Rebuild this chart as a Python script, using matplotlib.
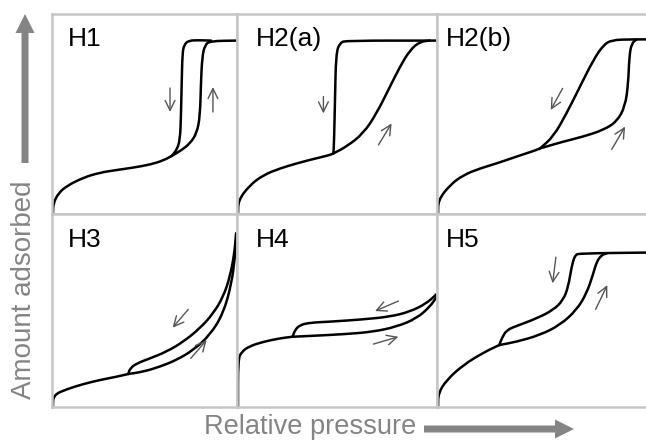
import matplotlib
matplotlib.use("Agg")
import matplotlib.pyplot as plt
from matplotlib.patches import FancyArrow, PathPatch
from matplotlib.path import Path

plt.rcParams['font.family'] = ['Liberation Sans', 'DejaVu Sans']

# ---------------- data (panel-relative units, 0..1) ----------------
PANEL_NAMES = ["H1", "H2(a)", "H2(b)", "H3", "H4", "H5"]

H1_BASE = [(0.005, 0.0), (0.007, 0.053), (0.034, 0.103), (0.079, 0.14), (0.169, 0.182),
           (0.259, 0.207), (0.35, 0.22), (0.44, 0.232), (0.53, 0.247), (0.60, 0.267), (0.647, 0.29)]
H1_ADS = [(0.647, 0.29), (0.701, 0.32), (0.746, 0.353), (0.782, 0.403), (0.80, 0.487),
          (0.805, 0.653), (0.812, 0.787), (0.827, 0.845), (0.854, 0.865), (1.0, 0.867)]
H1_DES = [(0.647, 0.29), (0.674, 0.32), (0.692, 0.37), (0.697, 0.487), (0.701, 0.653),
          (0.705, 0.803), (0.714, 0.845), (0.737, 0.867), (0.79, 0.869), (0.86, 0.867)]

H2A_BASE = [(0.005, 0.0), (0.007, 0.07), (0.065, 0.145), (0.132, 0.195), (0.215, 0.228),
            (0.298, 0.253), (0.382, 0.275), (0.465, 0.295), (0.482, 0.303)]
H2A_ADS = [(0.482, 0.303), (0.548, 0.337), (0.632, 0.403), (0.698, 0.503), (0.765, 0.637),
           (0.815, 0.737), (0.865, 0.82), (0.915, 0.862), (0.965, 0.867)]
H2A_DES = [(0.482, 0.303), (0.485, 0.353), (0.49, 0.57), (0.495, 0.803), (0.515, 0.857),
           (0.548, 0.867), (1.0, 0.867)]

H2B_BASE = [(0.005, 0.0), (0.006, 0.07), (0.062, 0.145), (0.126, 0.195), (0.206, 0.228),
            (0.286, 0.253), (0.38, 0.287), (0.476, 0.32), (0.493, 0.328)]
H2B_DES = [(0.493, 0.328), (0.557, 0.387), (0.62, 0.503), (0.684, 0.637), (0.748, 0.77),
           (0.796, 0.845), (0.836, 0.87), (0.923, 0.873), (1.0, 0.873)]
H2B_ADS = [(0.493, 0.328), (0.604, 0.362), (0.70, 0.387), (0.796, 0.42), (0.86, 0.462),
           (0.90, 0.537), (0.915, 0.653), (0.92, 0.787), (0.931, 0.853), (0.955, 0.873)]

H3_BASE = [(0.005, 0.0), (0.007, 0.062), (0.079, 0.092), (0.169, 0.119), (0.259, 0.14),
           (0.35, 0.157), (0.412, 0.171)]
H3_DES = [(0.412, 0.171), (0.422, 0.2), (0.458, 0.226), (0.53, 0.252), (0.62, 0.287),
          (0.71, 0.338), (0.80, 0.408), (0.872, 0.485), (0.926, 0.572), (0.962, 0.675),
          (0.986, 0.796), (0.995, 0.90)]
H3_ADS = [(0.412, 0.171), (0.494, 0.183), (0.584, 0.209), (0.674, 0.244), (0.764, 0.295),
          (0.854, 0.373), (0.926, 0.485), (0.971, 0.641), (0.989, 0.779), (0.998, 0.90)]

H4_BASE = [(0.005, 0.0), (0.005, 0.244), (0.023, 0.287), (0.065, 0.316), (0.132, 0.338),
           (0.215, 0.356), (0.278, 0.364)]
H4_DES = [(0.278, 0.364), (0.29, 0.399), (0.315, 0.425), (0.365, 0.437), (0.465, 0.442),
          (0.632, 0.454), (0.765, 0.468), (0.865, 0.494), (0.948, 0.537), (0.998, 0.585)]
H4_ADS = [(0.278, 0.364), (0.382, 0.369), (0.548, 0.378), (0.682, 0.39), (0.798, 0.416),
          (0.898, 0.459), (0.965, 0.52), (0.998, 0.57)]

H5_BASE = [(0.005, 0.0), (0.006, 0.071), (0.046, 0.14), (0.126, 0.218), (0.222, 0.282),
           (0.298, 0.321)]
H5_DES = [(0.298, 0.321), (0.31, 0.356), (0.333, 0.399), (0.381, 0.42), (0.477, 0.459),
          (0.557, 0.503), (0.604, 0.554), (0.628, 0.623), (0.644, 0.727), (0.66, 0.788),
          (0.684, 0.796), (1.0, 0.80)]
H5_ADS = [(0.298, 0.321), (0.381, 0.338), (0.493, 0.373), (0.589, 0.425), (0.668, 0.503),
          (0.716, 0.589), (0.748, 0.692), (0.764, 0.753), (0.788, 0.788), (0.812, 0.796)]

# direction arrows per panel: (start, end)
H1_ARROWS = [((0.638, 0.63), (0.638, 0.51)), ((0.87, 0.51), (0.87, 0.635))]
H2A_ARROWS = [((0.432, 0.587), (0.432, 0.503)), ((0.707, 0.345), (0.773, 0.453))]
H2B_ARROWS = [((0.601, 0.628), (0.544, 0.52)), ((0.836, 0.323), (0.90, 0.437))]
H3_ARROWS = [((0.737, 0.506), (0.652, 0.411)), ((0.75, 0.252), (0.836, 0.347))]
H4_ARROWS = [((0.807, 0.549), (0.69, 0.497)), ((0.682, 0.326), (0.807, 0.364))]
H5_ARROWS = [((0.569, 0.776), (0.553, 0.641)), ((0.759, 0.506), (0.815, 0.632))]

PANELS = [
    ("H1", [H1_BASE, H1_ADS, H1_DES], H1_ARROWS),
    ("H2(a)", [H2A_BASE, H2A_ADS, H2A_DES], H2A_ARROWS),
    ("H2(b)", [H2B_BASE, H2B_ADS, H2B_DES], H2B_ARROWS),
    ("H3", [H3_BASE, H3_ADS, H3_DES], H3_ARROWS),
    ("H4", [H4_BASE, H4_ADS, H4_DES], H4_ARROWS),
    ("H5", [H5_BASE, H5_ADS, H5_DES], H5_ARROWS),
]

X_LABEL = "Relative pressure"
Y_LABEL = "Amount adsorbed"


def smooth_path(pts):
    """Quadratic B-spline style path: the read points act as control points."""
    verts = [pts[0]]
    codes = [Path.MOVETO]
    if len(pts) > 2:
        m = ((pts[0][0] + pts[1][0]) / 2, (pts[0][1] + pts[1][1]) / 2)
        verts.append(m)
        codes.append(Path.LINETO)
        for k in range(1, len(pts) - 1):
            nxt = ((pts[k][0] + pts[k + 1][0]) / 2, (pts[k][1] + pts[k + 1][1]) / 2)
            verts += [pts[k], nxt]
            codes += [Path.CURVE3, Path.CURVE3]
    verts.append(pts[-1])
    codes.append(Path.LINETO)
    return Path(verts, codes)


# ---------------- layout ----------------
W, H = 646, 442
fig = plt.figure(figsize=(W / 100, H / 100), dpi=100)

col_edges = [(52, 237), (237, 437), (437, 646)]
row_edges = [(14, 214), (214, 407)]
label_x = [0.086, 0.095, 0.043]
label_y = [0.84, 0.83]

BORDER = '#c6c6c6'
ARROWC = '#555555'
GREY = '#848484'

for i, (name, branches, arrows) in enumerate(PANELS):
    r, c = divmod(i, 3)
    x0, x1 = col_edges[c]
    y0, y1 = row_edges[r]
    ax = fig.add_axes([x0 / W, (H - y1) / H, (x1 - x0) / W, (y1 - y0) / H])
    ax.set_xlim(0, 1)
    ax.set_ylim(0, 1)
    ax.set_xticks([])
    ax.set_yticks([])
    for side, sp in ax.spines.items():
        sp.set_color(BORDER)
        sp.set_linewidth(1.8)
    if c == 2:
        ax.spines['right'].set_visible(False)
    for br in branches:
        ax.add_patch(PathPatch(smooth_path(br), fill=False, edgecolor='black',
                               lw=1.8, joinstyle='round', capstyle='round'))
    for (s, e) in arrows:
        ax.annotate('', xy=e, xytext=s,
                    arrowprops=dict(arrowstyle='->,head_length=0.45,head_width=0.22',
                                    color=ARROWC, lw=1.0, mutation_scale=16,
                                    shrinkA=0, shrinkB=0))
    ax.text(label_x[c], label_y[r], name, fontsize=19, color='black',
            ha='left', va='baseline', transform=ax.transAxes)

# overlay for axis labels and big arrows (pixel coordinates)
ov = fig.add_axes([0, 0, 1, 1], zorder=-1)
ov.set_xlim(0, W)
ov.set_ylim(H, 0)
ov.axis('off')

ov.text(24, 290, Y_LABEL, rotation=90, fontsize=20, color=GREY,
        ha='center', va='center')
ov.add_patch(FancyArrow(25, 163, 0, -130, width=7, head_width=19, head_length=19,
                        length_includes_head=False, color=GREY, lw=0))
ov.text(310, 427, X_LABEL, fontsize=19.6, color=GREY, ha='center', va='center')
ov.add_patch(FancyArrow(424, 429, 131, 0, width=7, head_width=19, head_length=19,
                        length_includes_head=False, color=GREY, lw=0))

fig.savefig("out.png", dpi=100)
